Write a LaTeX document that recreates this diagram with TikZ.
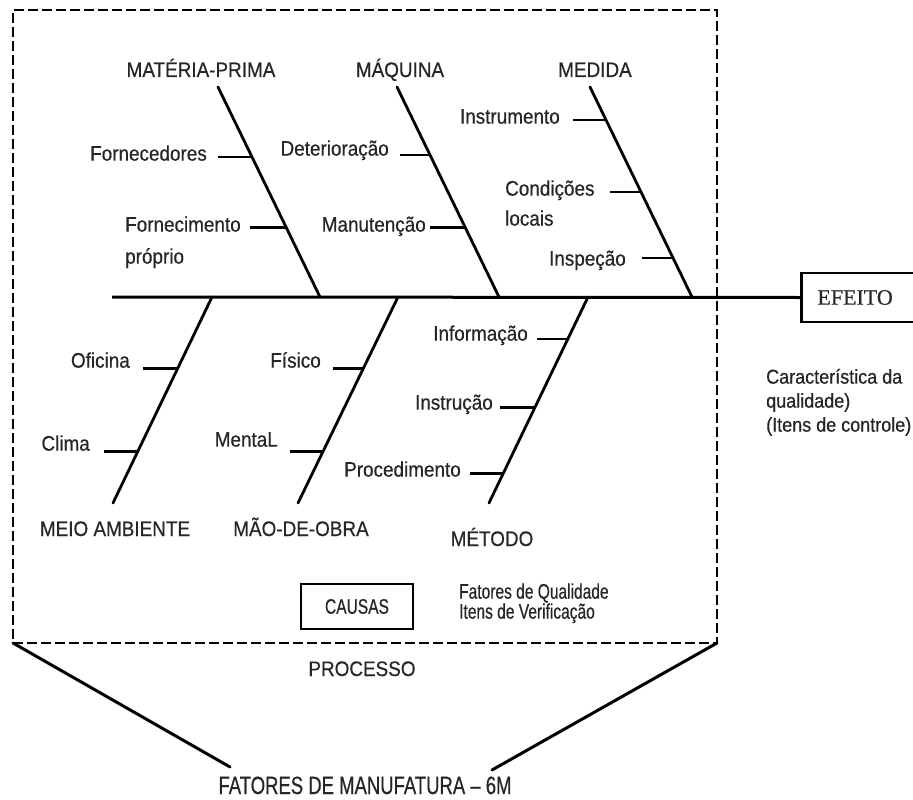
\documentclass[tikz,border=0pt]{standalone}
\usepackage{fontspec}
\setmainfont{Liberation Sans}
\newfontfamily\labelsans[FakeStretch=0.9,FakeBold=0.5]{Liberation Sans}
\newfontfamily\narrowsans[FakeStretch=0.74,FakeBold=0.5]{Liberation Sans}
\newfontfamily\efeitofont[FakeBold=0.4]{Liberation Serif}
\begin{document}
\begin{tikzpicture}[x=1pt,y=-1pt,
  lbl/.style={font=\fontsize{21}{24}\labelsans, inner sep=0pt, text=black!85},
  note/.style={font=\fontsize{20}{24}\labelsans, inner sep=0pt, text=black!85, anchor=mid west},
  cond/.style={font=\fontsize{21}{24}\narrowsans, inner sep=0pt, text=black!85, anchor=mid west},
  bone/.style={line width=2.8pt, line cap=round},
  spine/.style={line width=3pt},
  tkthin/.style={line width=1.6pt},
  tkthick/.style={line width=3pt},
  funnel/.style={line width=3pt, line cap=round},
  procbox/.style={draw, line width=2.6pt, dash pattern=on 10pt off 4pt, inner sep=0pt, outer sep=0pt},
  framebox/.style={draw, line width=2.8pt},
]
\useasboundingbox (0,0) rectangle (913,800);
\fill[white] (0,0) rectangle (913,800);
\clip (0,0) rectangle (913,800);

% process frame (dashed)
\node[procbox, minimum width=704pt, minimum height=633pt, anchor=north west] (proc) at (13,10) {};

% effect box, running off the right edge
\node[framebox, anchor=west, inner xsep=16pt, inner ysep=0pt, minimum height=49pt,
      text width=109pt, align=left, font=\fontsize{22}{24}\efeitofont, text=black!85] (efeito) at (800,297.5) {EFEITO};

% spine
\coordinate (spineL) at (112,297);
\draw[spine] (spineL) -- (efeito.west);

% upper bones
\coordinate (mpT) at (218,87);  \coordinate (mpB) at (320,297);
\coordinate (mqT) at (397,87);  \coordinate (mqB) at (499,297);
\coordinate (mdT) at (590,87);  \coordinate (mdB) at (692,297);
\draw[bone] (mpT) -- (mpB) coordinate[pos=0.3333] (mp1) coordinate[pos=0.6714] (mp2);
\draw[bone] (mqT) -- (mqB) coordinate[pos=0.3238] (mq1) coordinate[pos=0.6714] (mq2);
\draw[bone] (mdT) -- (mdB) coordinate[pos=0.1571] (md1) coordinate[pos=0.5] (md2) coordinate[pos=0.8143] (md3);

% lower bones
\coordinate (maT) at (212,297); \coordinate (maB) at (113,503);
\coordinate (moT) at (398,297); \coordinate (moB) at (298,503);
\coordinate (mtT) at (588,297); \coordinate (mtB) at (489,503);
\draw[bone] (maT) -- (maB) coordinate[pos=0.3447] (ma1) coordinate[pos=0.7524] (ma2);
\draw[bone] (moT) -- (moB) coordinate[pos=0.3447] (mo1) coordinate[pos=0.7524] (mo2);
\draw[bone] (mtT) -- (mtB) coordinate[pos=0.2039] (mt1) coordinate[pos=0.5388] (mt2) coordinate[pos=0.8544] (mt3);

% category labels
\node[lbl, anchor=base] (matprima) at (201,77) {MATÉRIA-PRIMA};
\node[lbl, anchor=base] (maquina)  at (400,77) {MÁQUINA};
\node[lbl, anchor=base] (medida)   at (595,77) {MEDIDA};
\node[lbl, anchor=base] (meioamb)  at (115,536) {MEIO AMBIENTE};
\node[lbl, anchor=base] (maoobra)  at (301,536) {MÃO-DE-OBRA};
\node[lbl, anchor=base] (metodo)   at (492,546) {MÉTODO};

% cause labels
\node[lbl, anchor=mid east] (fornecedores) at (207,158) {Fornecedores};
\node[lbl, anchor=mid west] (fornA) at (125,229) {Fornecimento};
\node[lbl, anchor=mid west] (fornB) at (125,261) {próprio};
\node[lbl, anchor=mid east] (deterioracao) at (389,153) {Deterioração};
\node[lbl, anchor=mid east] (manutencao) at (426,229) {Manutenção};
\node[lbl, anchor=mid east] (instrumento) at (560,121) {Instrumento};
\node[lbl, anchor=mid west] (condA) at (505,193) {Condições};
\node[lbl, anchor=mid west] (condB) at (505,223) {locais};
\node[lbl, anchor=mid east] (inspecao) at (626,263) {Inspeção};
\node[lbl, anchor=mid east] (oficina) at (130,365) {Oficina};
\node[lbl, anchor=mid east] (clima) at (90,448) {Clima};
\node[lbl, anchor=mid east] (fisico) at (321,365) {Físico};
\node[lbl, anchor=mid east] (mental) at (278,444) {MentaL};
\node[lbl, anchor=mid east] (informacao) at (528,338) {Informação};
\node[lbl, anchor=mid east] (instrucao) at (493,407) {Instrução};
\node[lbl, anchor=mid east] (procedimento) at (461,474) {Procedimento};

% sub-cause ticks
\draw[tkthin]  (mp1) -- ++(-34,0);
\draw[tkthick] (mp2) -- ++(-36,0);
\draw[tkthin]  (mq1) -- ++(-30,0);
\draw[tkthick] (mq2) -- ++(-35,0);
\draw[tkthin]  (md1) -- ++(-33,0);
\draw[tkthin]  (md2) -- ++(-31,0);
\draw[tkthin]  (md3) -- ++(-31,0);
\draw[tkthick] (ma1) -- ++(-35,0);
\draw[tkthick] (ma2) -- ++(-34,0);
\draw[tkthick] (mo1) -- ++(-31,0);
\draw[tkthick] (mo2) -- ++(-33,0);
\draw[tkthin]  (mt1) -- ++(-31,0);
\draw[tkthick] (mt2) -- ++(-35,0);
\draw[tkthick] (mt3) -- ++(-33,0);

% effect description
\node[note] (car1) at (766,381) {Característica da};
\node[note] (car2) at (766,405) {qualidade)};
\node[note] (car3) at (766,429) {(Itens de controle)};

% causes box and its note
\node[framebox, minimum width=112pt, minimum height=45pt, inner sep=0pt,
      font=\fontsize{21}{24}\narrowsans, text=black!85] (causas) at (357,606.5) {CAUSAS};
\node[cond] (fq1) at (459,596) {Fatores de Qualidade};
\node[cond] (fq2) at (459,616) {Itens de Verificação};

% process label and funnel
\node[lbl, anchor=base] (processo) at (362,676) {PROCESSO};
\node[font=\fontsize{25}{28}\narrowsans, inner sep=0pt, text=black!85, anchor=base] (seism) at (365,794) {FATORES DE MANUFATURA – 6M};
\coordinate (funL) at (230,767);
\coordinate (funR) at (492,770);
\draw[funnel] (proc.south west) -- (funL);
\draw[funnel] (proc.south east) -- (funR);
\end{tikzpicture}
\end{document}
